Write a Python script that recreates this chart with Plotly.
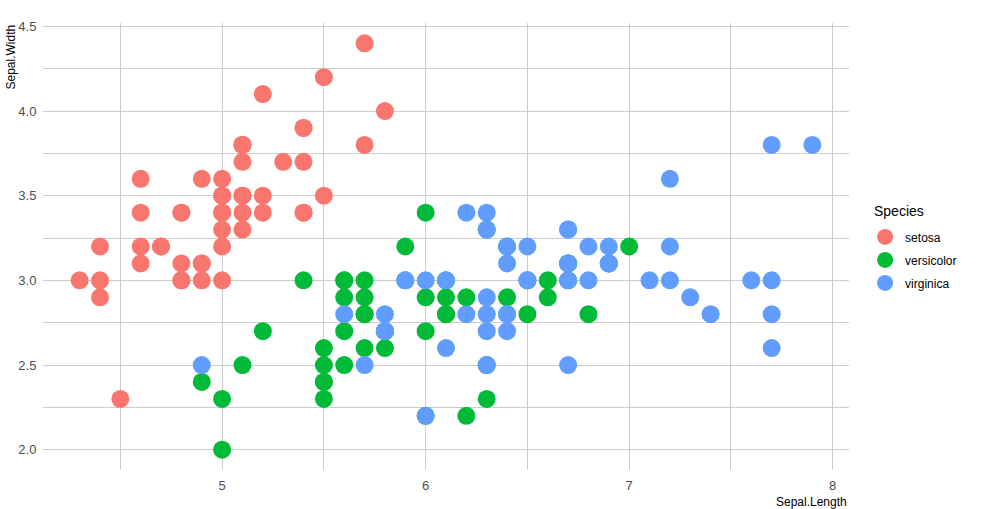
import plotly.graph_objects as go

# iris sepal measurements, by species
setosa_len = [5.1, 4.9, 4.7, 4.6, 5.0, 5.4, 4.6, 5.0, 4.4, 4.9, 5.4, 4.8, 4.8, 4.3, 5.8,
              5.7, 5.4, 5.1, 5.7, 5.1, 5.4, 5.1, 4.6, 5.1, 4.8, 5.0, 5.0, 5.2, 5.2, 4.7,
              4.8, 5.4, 5.2, 5.5, 4.9, 5.0, 5.5, 4.9, 4.4, 5.1, 5.0, 4.5, 4.4, 5.0, 5.1,
              4.8, 5.1, 4.6, 5.3, 5.0]
setosa_wid = [3.5, 3.0, 3.2, 3.1, 3.6, 3.9, 3.4, 3.4, 2.9, 3.1, 3.7, 3.4, 3.0, 3.0, 4.0,
              4.4, 3.9, 3.5, 3.8, 3.8, 3.4, 3.7, 3.6, 3.3, 3.4, 3.0, 3.4, 3.5, 3.4, 3.2,
              3.1, 3.4, 4.1, 4.2, 3.1, 3.2, 3.5, 3.6, 3.0, 3.4, 3.5, 2.3, 3.2, 3.5, 3.8,
              3.0, 3.8, 3.2, 3.7, 3.3]

versicolor_len = [7.0, 6.4, 6.9, 5.5, 6.5, 5.7, 6.3, 4.9, 6.6, 5.2, 5.0, 5.9, 6.0, 6.1, 5.6,
                  6.7, 5.6, 5.8, 6.2, 5.6, 5.9, 6.1, 6.3, 6.1, 6.4, 6.6, 6.8, 6.7, 6.0, 5.7,
                  5.5, 5.5, 5.8, 6.0, 5.4, 6.0, 6.7, 6.3, 5.6, 5.5, 5.5, 6.1, 5.8, 5.0, 5.6,
                  5.7, 5.7, 6.2, 5.1, 5.7]
versicolor_wid = [3.2, 3.2, 3.1, 2.3, 2.8, 2.8, 3.3, 2.4, 2.9, 2.7, 2.0, 3.0, 2.2, 2.9, 2.9,
                  3.1, 3.0, 2.7, 2.2, 2.5, 3.2, 2.8, 2.5, 2.8, 2.9, 3.0, 2.8, 3.0, 2.9, 2.6,
                  2.4, 2.4, 2.7, 2.7, 3.0, 3.4, 3.1, 2.3, 3.0, 2.5, 2.6, 3.0, 2.6, 2.3, 2.7,
                  3.0, 2.9, 2.9, 2.5, 2.8]

virginica_len = [6.3, 5.8, 7.1, 6.3, 6.5, 7.6, 4.9, 7.3, 6.7, 7.2, 6.5, 6.4, 6.8, 5.7, 5.8,
                 6.4, 6.5, 7.7, 7.7, 6.0, 6.9, 5.6, 7.7, 6.3, 6.7, 7.2, 6.2, 6.1, 6.4, 7.2,
                 7.4, 7.9, 6.4, 6.3, 6.1, 7.7, 6.3, 6.4, 6.0, 6.9, 6.7, 6.9, 5.8, 6.8, 6.7,
                 6.7, 6.3, 6.5, 6.2, 5.9]
virginica_wid = [3.3, 2.7, 3.0, 2.9, 3.0, 3.0, 2.5, 2.9, 2.5, 3.6, 3.2, 2.7, 3.0, 2.5, 2.8,
                 3.2, 3.0, 3.8, 2.6, 2.2, 3.2, 2.8, 2.8, 2.7, 3.3, 3.2, 2.8, 3.0, 2.8, 3.0,
                 2.8, 3.8, 2.8, 2.8, 2.6, 3.0, 3.4, 3.1, 3.0, 3.1, 3.1, 3.1, 2.7, 3.2, 3.3,
                 3.0, 2.5, 3.0, 3.4, 3.0]

species = ['setosa', 'versicolor', 'virginica']
colors = ['#F8766D', '#00BA38', '#619CFF']
xs = [setosa_len, versicolor_len, virginica_len]
ys = [setosa_wid, versicolor_wid, virginica_wid]

fig = go.Figure()
for name, col, x, y in zip(species, colors, xs, ys):
    fig.add_trace(go.Scatter(
        x=x, y=y, mode='markers', name=name, legendgroup=name,
        marker=dict(color=col, size=18, line=dict(width=0)),
    ))

grid = '#cccccc'
axis_style = dict(
    showgrid=True, gridcolor=grid, gridwidth=1, zeroline=False, showline=False,
    ticks='outside', ticklen=3, tickcolor='rgba(0,0,0,0)',
    tickfont=dict(size=13, color='#4d4d4d'), automargin=False,
)
fig.update_layout(
    width=991, height=509,
    margin=dict(l=43, r=142, t=23, b=39),
    plot_bgcolor='white', paper_bgcolor='white',
    font=dict(family='Liberation Sans, Arial, sans-serif'),
    showlegend=True,
    legend=dict(
        font=dict(size=12, color='black'),
        x=1.02, xanchor='left', y=0.47, yanchor='middle',
        tracegroupgap=4,
    ),
    xaxis=dict(
        range=[4.12, 8.08], tickvals=[5, 6, 7, 8], ticktext=['5', '6', '7', '8'],
        minor=dict(tickvals=[4.5, 5.5, 6.5, 7.5], showgrid=True, gridcolor=grid, gridwidth=1),
        **axis_style,
    ),
    yaxis=dict(
        range=[1.88, 4.52], tickvals=[2.0, 2.5, 3.0, 3.5, 4.0, 4.5],
        ticktext=['2.0', '2.5', '3.0', '3.5', '4.0', '4.5'],
        minor=dict(tickvals=[2.25, 2.75, 3.25, 3.75, 4.25], showgrid=True,
                   gridcolor=grid, gridwidth=1),
        **axis_style,
    ),
    annotations=[
        dict(text='Sepal.Length', xref='paper', yref='paper', x=1, y=0,
             xanchor='right', yanchor='top', yshift=-23, showarrow=False,
             font=dict(size=12, color='black')),
        dict(text='Sepal.Width', xref='paper', yref='paper', x=0, y=1,
             xanchor='center', yanchor='top', xshift=-33, textangle=-90, showarrow=False,
             font=dict(size=12, color='black')),
        dict(text='Species', xref='paper', yref='paper', x=1.0285, y=0.579,
             xanchor='left', yanchor='middle', showarrow=False,
             font=dict(size=14, color='black')),
    ],
)

# drop the browser's default page margin so the figure sits at the top-left corner
fig.write_html('out.html', config={'displayModeBar': False},
               post_script="document.body.style.margin='0';")
